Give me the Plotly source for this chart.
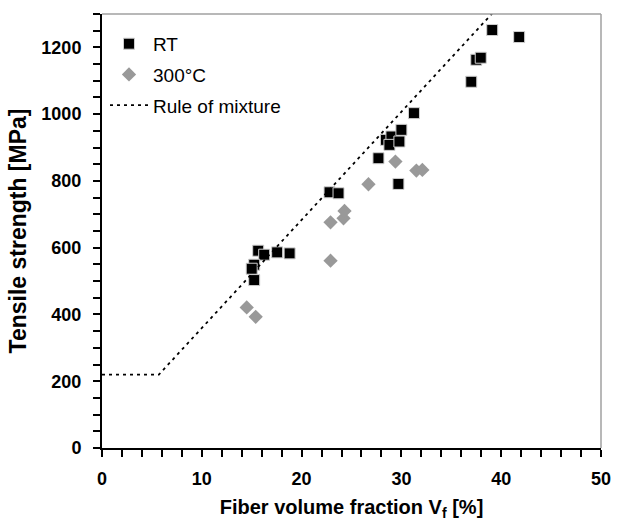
import plotly.graph_objects as go

# RT (room temperature) data
rt_vf = [15.65, 16.25, 17.55, 18.8, 15.25, 15.0, 15.25, 22.8, 23.7, 27.7, 29.7,
         28.45, 29.0, 28.8, 29.8, 30.0, 31.26, 37.0, 37.5, 37.95, 39.1, 41.8]
rt_ts = [591, 579, 586, 583, 549, 537, 503, 766, 763, 868, 791,
         923, 933, 908, 918, 953, 1003, 1097, 1163, 1169, 1252, 1231]

# 300°C data
ht_vf = [14.5, 15.4, 22.9, 22.9, 24.2, 24.3, 26.7, 29.4, 31.5, 32.1]
ht_ts = [421, 393, 561, 676, 688, 710, 790, 858, 831, 833]

# Rule of mixture
rom_vf = [0, 5.7, 40]
rom_ts = [220, 220, 1331]

FONT = "Arial, Liberation Sans, sans-serif"

fig = go.Figure()
fig.add_trace(go.Scatter(
    x=rt_vf, y=rt_ts, mode="markers", name="RT", legendgroup="a",
    marker=dict(symbol="square", size=11, color="black",
                line=dict(color="#d0d0d0", width=1))))
fig.add_trace(go.Scatter(
    x=ht_vf, y=ht_ts, mode="markers", name="300°C", legendgroup="b",
    marker=dict(symbol="diamond", size=11, color="#999999",
                line=dict(color="#999999", width=0))))
fig.add_trace(go.Scatter(
    x=rom_vf, y=rom_ts, mode="lines", name="Rule of mixture", legendgroup="c",
    line=dict(color="black", width=1.8, dash="3px,4px")))

tick_font = dict(family=FONT, size=18, color="black", weight="bold")
fig.update_layout(
    width=634, height=523,
    margin=dict(l=102, r=33, t=14, b=75),
    plot_bgcolor="white", paper_bgcolor="white",
    font=dict(family=FONT, color="black"),
    showlegend=True,
    legend=dict(x=0.006, y=0.975, xanchor="left", yanchor="top",
                bgcolor="rgba(0,0,0,0)", font=dict(family=FONT, size=19, color="black"),
                traceorder="grouped", tracegroupgap=3, itemwidth=38),
    xaxis=dict(range=[0, 50], dtick=10, showgrid=False, zeroline=False,
               showline=True, linecolor="black", linewidth=2, automargin=False,
               ticks="outside", ticklen=7, tickwidth=2, tickcolor="black",
               minor=dict(dtick=2, ticks="outside", ticklen=7, tickwidth=2, tickcolor="black"),
               tickfont=tick_font, ticklabelstandoff=6,
               title=dict(text="Fiber volume fraction V<sub>f</sub> [%]",
                          font=dict(family=FONT, size=20, color="black", weight="bold"),
                          standoff=12)),
    yaxis=dict(range=[0, 1300], dtick=200, showgrid=False, zeroline=False,
               showline=True, linecolor="black", linewidth=2, automargin=False,
               ticks="outside", ticklen=7, tickwidth=2, tickcolor="black",
               minor=dict(dtick=50, ticks="outside", ticklen=7, tickwidth=2, tickcolor="black"),
               tickfont=tick_font, ticklabelstandoff=8,
               title=dict(text="Tensile strength [MPa]",
                          font=dict(family=FONT, size=23, color="black", weight="bold"),
                          standoff=8)),
)

# gray top and right frame
fig.add_shape(type="line", xref="paper", yref="paper", x0=0, x1=1, y0=1, y1=1,
              line=dict(color="#a0a0a0", width=1.5))
fig.add_shape(type="line", xref="paper", yref="paper", x0=1, x1=1, y0=0, y1=1,
              line=dict(color="#a0a0a0", width=1.5))

fig.write_html("out.html")
